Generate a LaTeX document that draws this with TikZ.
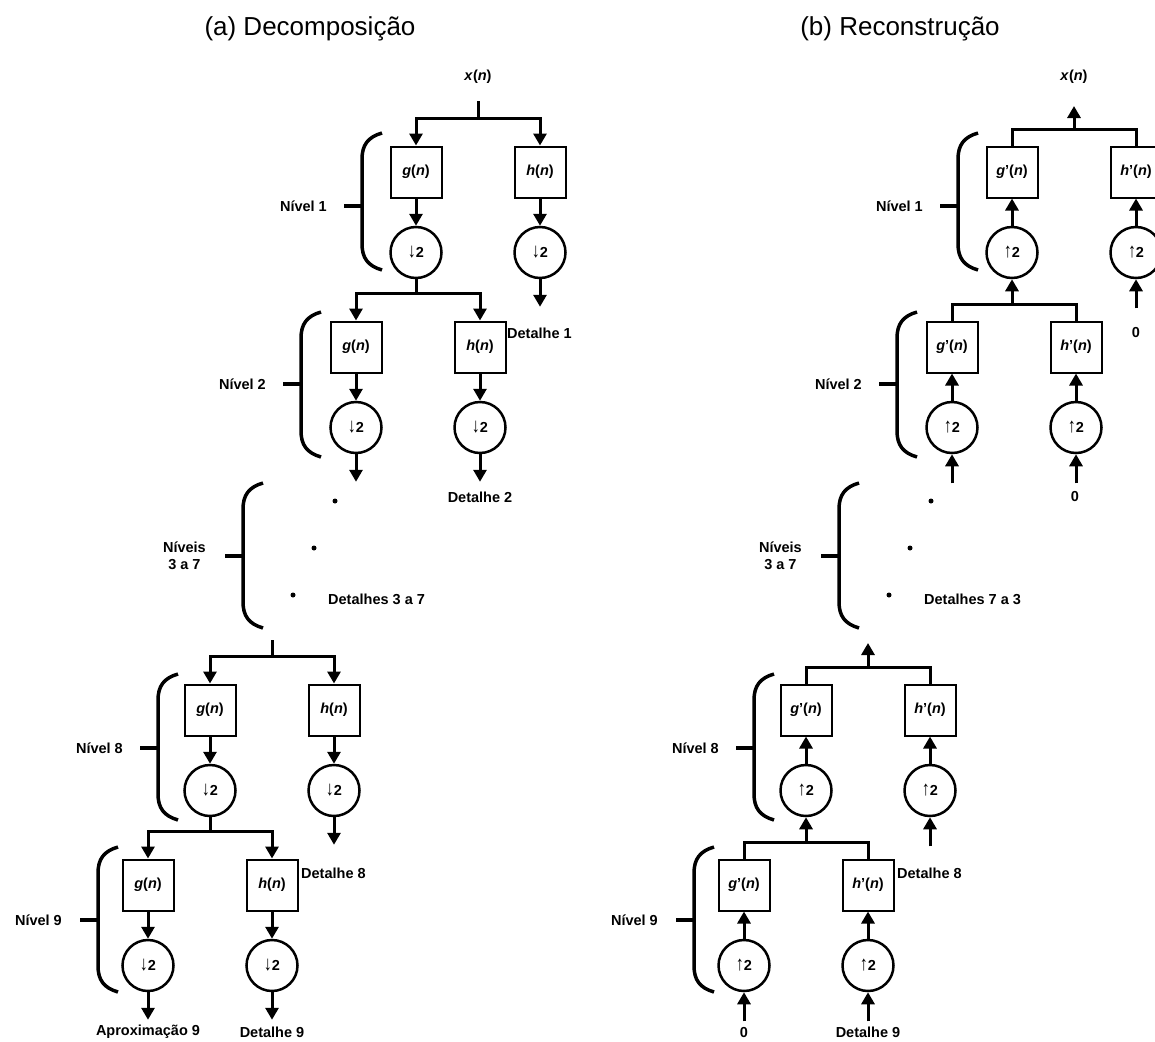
\documentclass[tikz,border=0pt]{standalone}
\usepackage{fontspec}
\setmainfont{Liberation Sans}
\usetikzlibrary{arrows.meta}
\newcommand\lbl{\fontsize{14.5}{17}\selectfont\bfseries}
\newcommand\dnar{\raisebox{-0.5pt}{\scalebox{1.1}[1.4]{\char"2193}}}
\newcommand\upar{\raisebox{-0.5pt}{\scalebox{1.1}[1.4]{\char"2191}}}
\tikzset{
 filt/.style={draw, line width=2pt, minimum width=51pt, minimum height=51pt, inner sep=0pt, font=\lbl},
 samp/.style={draw, circle, line width=2.5pt, minimum size=51pt, inner sep=0pt, font=\lbl},
 conn/.style={line width=3pt},
 tri/.tip={Triangle[length=12pt,width=13pt]},
 brc/.style={line width=3.5pt},
 lab/.style={font=\lbl, inner sep=0pt},
 ttl/.style={font=\fontsize{26}{30}\selectfont, inner sep=0pt},
 dot/.style={circle, fill, inner sep=0pt, minimum size=5pt}
}
% left (decomposition) level: prefix, g x, box y
\newcommand\declev[3]{%
 \node[filt] (#1g) at (#2,#3) {\textit{g}(\textit{n})};
 \node[filt] (#1h) at ({#2+124},#3) {\textit{h}(\textit{n})};
 \node[samp] (#1gc) at (#2,{#3+80.5}) {\dnar2};
 \node[samp] (#1hc) at ({#2+124},{#3+80.5}) {\dnar2};
 \coordinate (#1bar) at (#2,{#3-54});
 \draw[conn,tri-tri] (#1g.north) |- (#1bar -| #1h.north) -- (#1h.north);
 \draw[conn,-tri] (#1g) -- (#1gc);
 \draw[conn,-tri] (#1h) -- (#1hc);
}
% right (reconstruction) level
\newcommand\reclev[3]{%
 \node[filt] (#1g) at (#2,#3) {\textit{g}'(\textit{n})};
 \node[filt] (#1h) at ({#2+124},#3) {\textit{h}'(\textit{n})};
 \node[samp] (#1gc) at (#2,{#3+80.5}) {\upar2};
 \node[samp] (#1hc) at ({#2+124},{#3+80.5}) {\upar2};
 \coordinate (#1bar) at (#2,{#3-43});
 \draw[conn] (#1g.north) |- (#1bar -| #1h.north) -- (#1h.north);
 \draw[conn,-tri] (#1gc) -- (#1g);
 \draw[conn,-tri] (#1hc) -- (#1h);
}
% brace: x, top, bottom, tick y
\newcommand\mybrace[4]{%
 \draw[brc] ({#1+20},#2) .. controls ({#1+6},{#2+4}) and (#1,{#2+12}) .. (#1,{#2+26}) -- (#1,{#3-26}) .. controls (#1,{#3-12}) and ({#1+6},{#3-4}) .. ({#1+20},#3);
 \draw[brc] ({#1-18},#4) -- (#1,#4);
}
\begin{document}
\begin{tikzpicture}[x=1pt,y=-1pt]
\clip (0,0) rectangle (1155,1041);
\fill[white] (0,0) rectangle (1155,1041);

% titles
\node[ttl] (ta) at (310,29) {(a) Decomposição};
\node[ttl] (tb) at (900,29) {(b) Reconstrução};

% ================= (a) decomposition =================
\node[lab] (xa) at (478,77) {\textit{x}(\textit{n})};
\coordinate (xin) at (478,101);
\declev{A1}{416}{172}
\declev{A2}{356}{347}
\declev{A8}{210}{710}
\declev{A9}{148}{885}
\draw[conn] (xin) -- (xin |- A1bar);
\draw[conn] (A1gc.south) -- (A1gc.south |- A2bar);
\coordinate (in8) at (272,640);
\draw[conn] (in8) -- (in8 |- A8bar);
\draw[conn] (A8gc.south) -- (A8gc.south |- A9bar);
\draw[conn,-tri] (A1hc.south) -- ++(0,27.5);
\draw[conn,-tri] (A2gc.south) -- ++(0,27.5);
\draw[conn,-tri] (A2hc.south) -- ++(0,27.5);
\draw[conn,-tri] (A8hc.south) -- ++(0,27.5);
\draw[conn,-tri] (A9gc.south) -- ++(0,27.5);
\draw[conn,-tri] (A9hc.south) -- ++(0,27.5);

\node[lab,anchor=west] (ad1) at (507,333) {Detalhe 1};
\node[lab] (ad2) at (480,497) {Detalhe 2};
\node[lab,anchor=west] (ad37) at (328,599) {Detalhes 3 a 7};
\node[lab,anchor=west] (ad8) at (301,873) {Detalhe 8};
\node[lab] (aap9) at (148,1032) {Aproximação 9};
\node[lab] (ad9) at (272,1032) {Detalhe 9};

\node[dot] (ada) at (335,501) {};
\node[dot] (adb) at (314,548) {};
\node[dot] (adc) at (293,595) {};

\mybrace{362}{133}{270}{206}
\mybrace{301}{312}{457}{384}
\mybrace{243}{483}{628}{556}
\mybrace{158}{674}{820}{748}
\mybrace{98}{847}{992}{920}
\node[lab,anchor=east] (an1) at (327,206) {Nível 1};
\node[lab,anchor=east] (an2) at (266,384) {Nível 2};
\node[lab,anchor=east,align=center] (an37) at (206,556) {Níveis\\3 a 7};
\node[lab,anchor=east] (an8) at (123,748) {Nível 8};
\node[lab,anchor=east] (an9) at (62,920) {Nível 9};

% ================= (b) reconstruction =================
\node[lab] (xb) at (1074,77) {\textit{x}(\textit{n})};
\coordinate (xout) at (1074,106);
\reclev{B1}{1012}{172}
\reclev{B2}{952}{347}
\reclev{B8}{806}{710}
\reclev{B9}{744}{885}
\draw[conn,-tri] (xout |- B1bar) -- (xout);
\draw[conn,-tri] (B1gc.south |- B2bar) -- (B1gc.south);
\coordinate (out8) at (868,643);
\draw[conn,-tri] (out8 |- B8bar) -- (out8);
\draw[conn,-tri] (B8gc.south |- B9bar) -- (B8gc.south);
\draw[conn,-tri] ([yshift=-29pt]B1hc.south) -- (B1hc.south);
\draw[conn,-tri] ([yshift=-29pt]B2gc.south) -- (B2gc.south);
\draw[conn,-tri] ([yshift=-29pt]B2hc.south) -- (B2hc.south);
\draw[conn,-tri] ([yshift=-29pt]B8hc.south) -- (B8hc.south);
\draw[conn,-tri] ([yshift=-29pt]B9gc.south) -- (B9gc.south);
\draw[conn,-tri] ([yshift=-29pt]B9hc.south) -- (B9hc.south);

\node[lab] (b01) at (1136,333) {0};
\node[lab] (b02) at (1075,497) {0};
\node[lab,anchor=west] (bd73) at (924,599) {Detalhes 7 a 3};
\node[lab,anchor=west] (bd8) at (897,873) {Detalhe 8};
\node[lab] (b09) at (744,1032) {0};
\node[lab] (bd9) at (868,1032) {Detalhe 9};

\node[dot] (bda) at (931,501) {};
\node[dot] (bdb) at (910,548) {};
\node[dot] (bdc) at (889,595) {};

\mybrace{958}{133}{270}{206}
\mybrace{897}{312}{457}{384}
\mybrace{839}{483}{628}{556}
\mybrace{754}{674}{820}{748}
\mybrace{694}{847}{992}{920}
\node[lab,anchor=east] (bn1) at (923,206) {Nível 1};
\node[lab,anchor=east] (bn2) at (862,384) {Nível 2};
\node[lab,anchor=east,align=center] (bn37) at (802,556) {Níveis\\3 a 7};
\node[lab,anchor=east] (bn8) at (719,748) {Nível 8};
\node[lab,anchor=east] (bn9) at (658,920) {Nível 9};
\end{tikzpicture}
\end{document}
